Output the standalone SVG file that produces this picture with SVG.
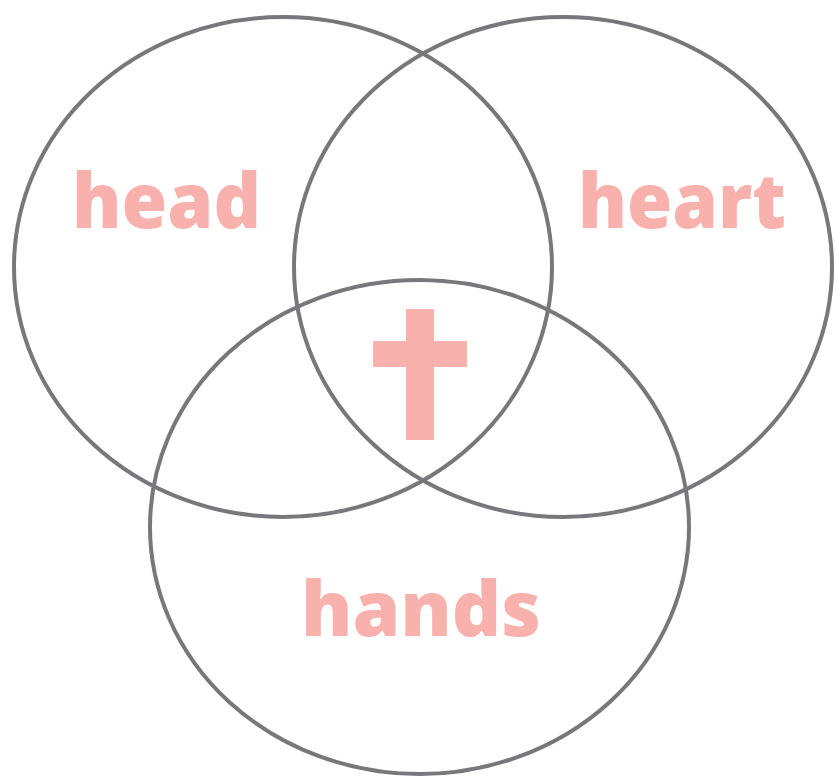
<svg xmlns="http://www.w3.org/2000/svg" width="836" height="779" viewBox="0 0 836 779">
<style>
.ring{fill:none;stroke:#77777c;stroke-width:4}
.lbl{fill:#f8b1ad;font-family:"Open Sans","Noto Sans",sans-serif;font-weight:800;font-size:77px}
.cross{fill:#f8b1ad}
</style>
<rect width="836" height="779" fill="#ffffff"/>
<g id="head">
<ellipse class="ring" cx="283" cy="267" rx="269" ry="250"/>
<text class="lbl" x="72" y="228" textLength="189" lengthAdjust="spacingAndGlyphs">head</text>
</g>
<g id="heart">
<ellipse class="ring" cx="563" cy="267" rx="269" ry="250"/>
<text class="lbl" x="578" y="228" textLength="208" lengthAdjust="spacingAndGlyphs">heart</text>
</g>
<g id="hands">
<ellipse class="ring" cx="419.5" cy="527" rx="269.5" ry="247"/>
<text class="lbl" x="301" y="636" textLength="240" lengthAdjust="spacingAndGlyphs">hands</text>
</g>
<g id="cross">
<rect class="cross" x="406" y="309" width="28" height="131"/>
<rect class="cross" x="373" y="341" width="94" height="26"/>
</g>
</svg>
